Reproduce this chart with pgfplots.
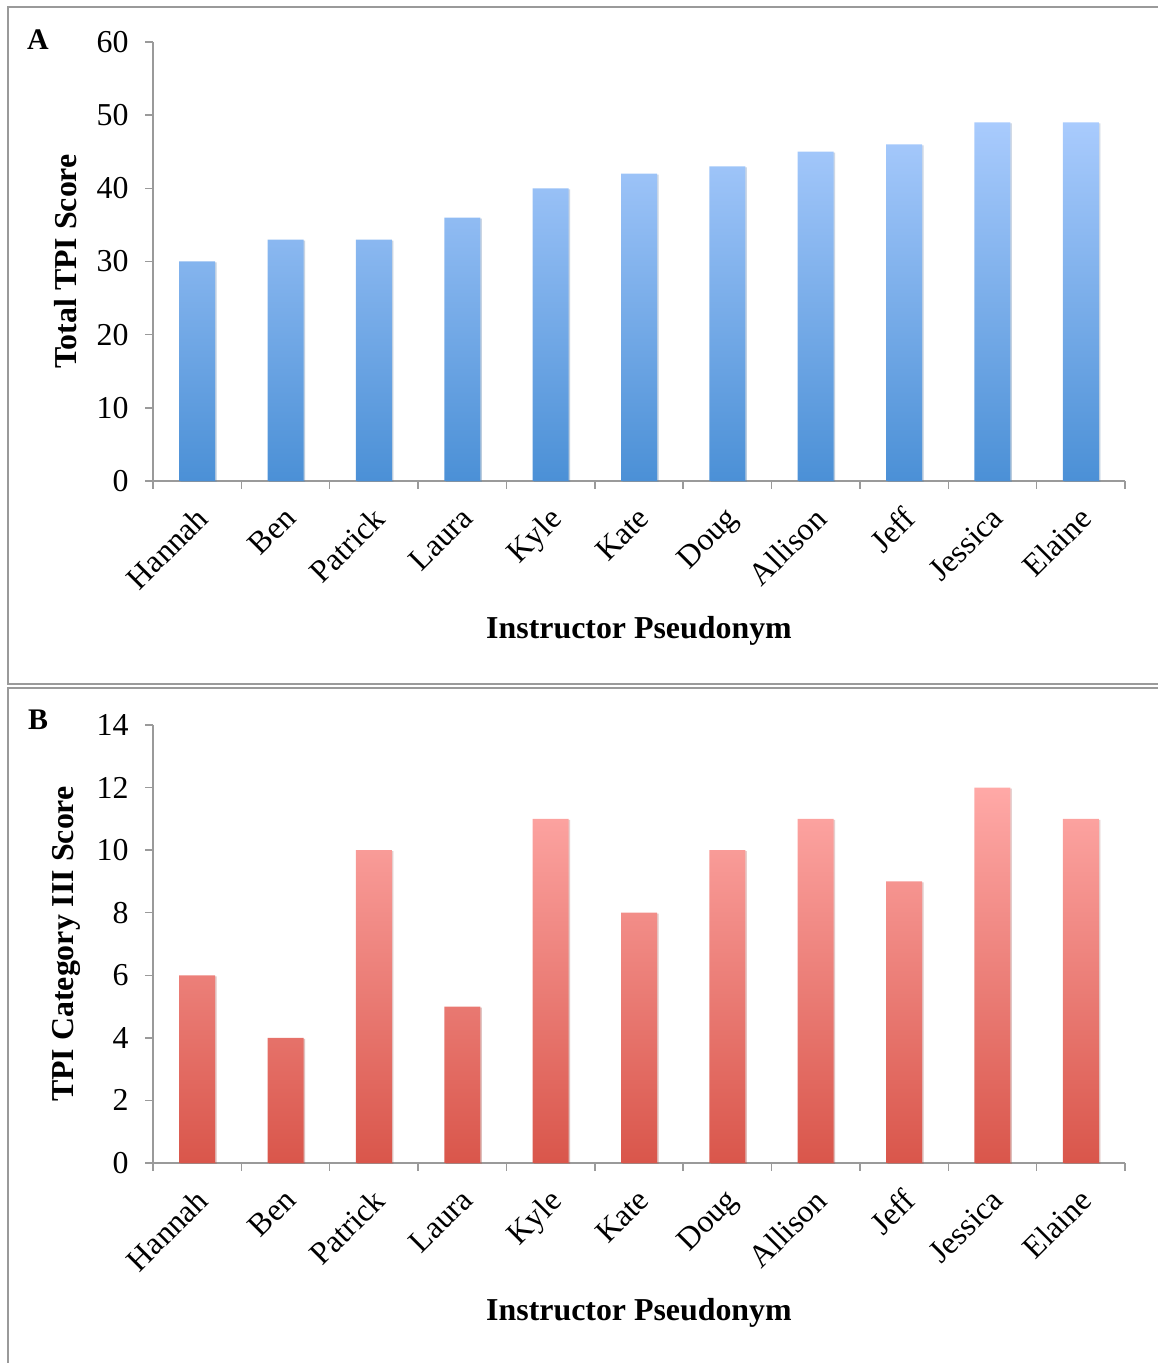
\documentclass[border=0pt]{standalone}
\usepackage{pgfplots}
\pgfplotsset{compat=1.18}
\usetikzlibrary{shadows}
\usepackage{fontspec}
\setmainfont{Liberation Serif}
\definecolor{axgray}{HTML}{9A9A9A}
\definecolor{btop}{HTML}{A9CBFD}
\definecolor{bbot}{HTML}{4B90D6}
\definecolor{rtop}{HTML}{FFA9A7}
\definecolor{rbot}{HTML}{D9564B}
\pgfplotstableread{
x v
0 30
1 33
2 33
3 36
4 40
5 42
6 43
7 45
8 46
9 49
10 49
}\dataA
\pgfplotstableread{
x v
0 6
1 4
2 10
3 5
4 11
5 8
6 10
7 11
8 9
9 12
10 11
}\dataB
\pgfplotsset{
  panel/.style={
    scale only axis,
    width=972bp,
    height=439bp,
    anchor=south west,
    axis lines=left,
    axis line style={-,axgray,line width=1.5bp},
    xmin=-0.5, xmax=10.5,
    ymin=0,
    xtick={0,...,10},
    xticklabels={Hannah,Ben,Patrick,Laura,Kyle,Kate,Doug,Allison,Jeff,Jessica,Elaine},
    minor xtick={-0.5,0.5,...,10.5},
    major x tick style={draw=none},
    minor x tick style={axgray,line width=1.5bp},
    y tick style={axgray,line width=1.5bp},
    tick align=outside,
    major tick length=8bp,
    minor tick length=8bp,
    font=\fontsize{32}{36}\selectfont,
    /pgf/number format/assume math mode=true,
    xticklabel style={xshift=-3bp,yshift=-16bp,rotate=45,anchor=north east,inner sep=0bp},
    yticklabel style={anchor=east,xshift=-13bp},
    label style={font=\fontsize{32}{36}\selectfont\bfseries},
    xlabel={Instructor Pseudonym},
    xlabel style={at={(axis description cs:0.5,0)},anchor=center,yshift=-150bp},
    ylabel style={at={(axis description cs:-0.0895,0.5)},anchor=center},
    ybar,
    bar width=36bp,
    clip=false,
  }
}
\begin{document}
\begin{tikzpicture}
\path[use as bounding box] (0bp,0bp) rectangle (1158bp,1363bp);
\draw[axgray,line width=2bp] (8bp,679bp) rectangle (1170bp,1356bp);
\draw[axgray,line width=2bp] (8bp,-10bp) rectangle (1170bp,675bp);
\node[font=\fontsize{30}{32}\selectfont\bfseries] at (38bp,1323bp) {A};
\node[font=\fontsize{30}{32}\selectfont\bfseries] at (38bp,643bp) {B};
\begin{axis}[panel, at={(153bp,882bp)}, ymax=60, ytick={0,10,...,60}, ylabel={Total TPI Score}]
\addplot[draw=none, top color=btop, bottom color=bbot, drop shadow={opacity=0.25,shadow xshift=1.5bp,shadow yshift=-1bp}] table[x=x,y=v] {\dataA};
\end{axis}
\begin{axis}[panel, at={(153bp,200bp)}, height=438bp, ymax=14, ytick={0,2,...,14}, ylabel={TPI Category III Score}]
\addplot[draw=none, top color=rtop, bottom color=rbot, drop shadow={opacity=0.25,shadow xshift=1.5bp,shadow yshift=-1bp}] table[x=x,y=v] {\dataB};
\end{axis}
\end{tikzpicture}
\end{document}
